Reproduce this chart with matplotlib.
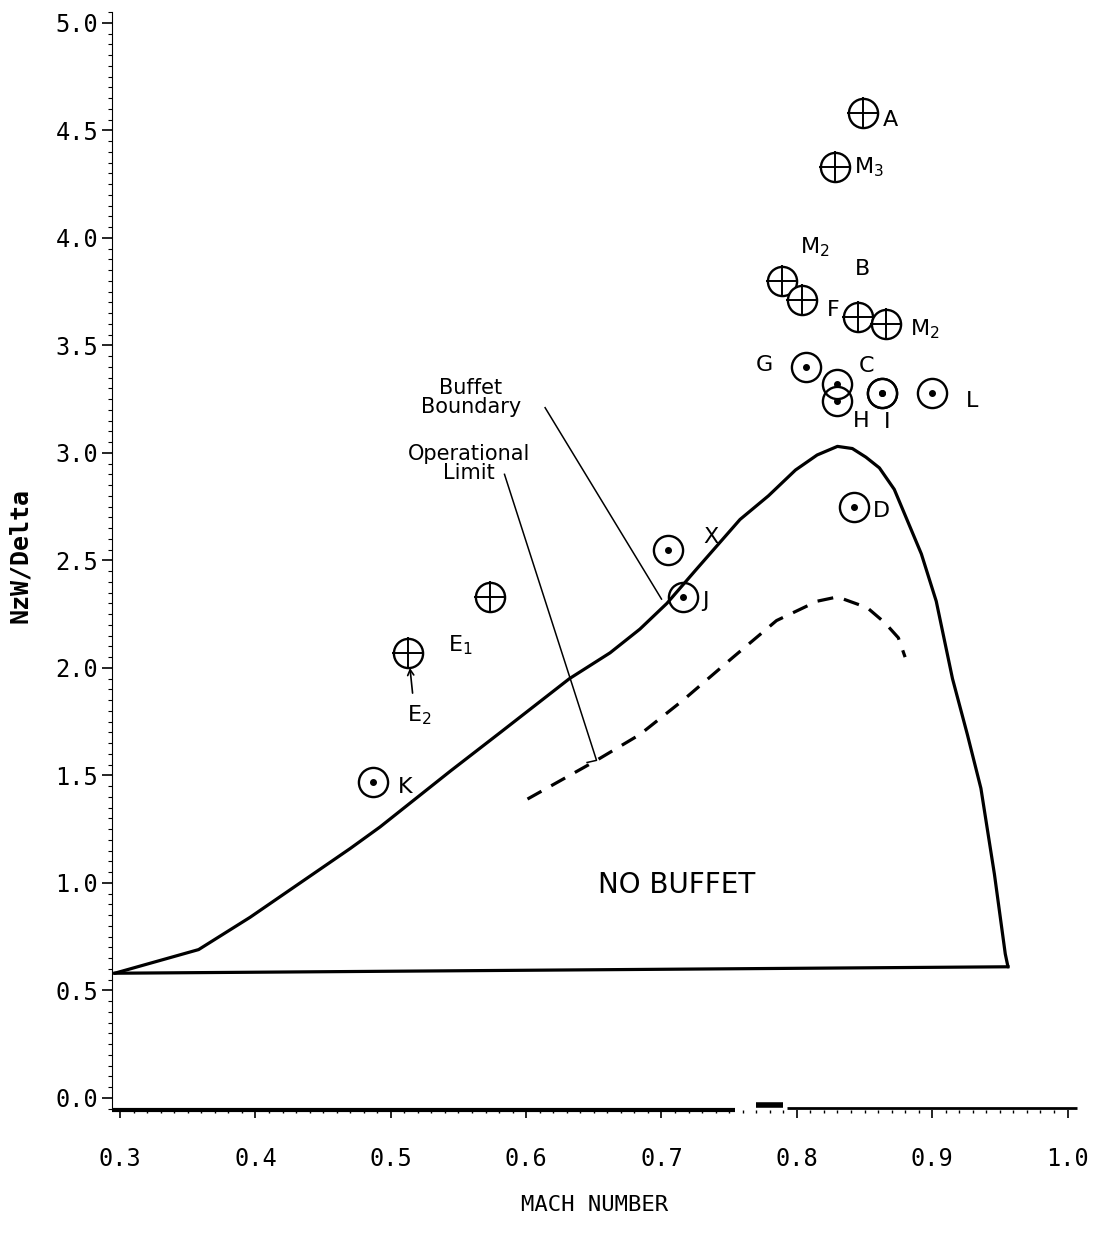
import matplotlib
matplotlib.use("Agg")
import matplotlib.pyplot as plt
from matplotlib.ticker import MultipleLocator

# ---------------- data ----------------
# Buffet boundary (solid curve)
boundary_mach = [0.296, 0.358, 0.396, 0.433, 0.470, 0.492, 0.522, 0.544, 0.581,
                 0.632, 0.662, 0.684, 0.704, 0.726, 0.758, 0.779, 0.799, 0.815,
                 0.830, 0.841, 0.851, 0.861, 0.872, 0.882, 0.892, 0.903, 0.915,
                 0.926, 0.936, 0.946, 0.954, 0.956]
boundary_nzw = [0.58, 0.69, 0.84, 1.00, 1.16, 1.26, 1.41, 1.52, 1.70,
                1.95, 2.07, 2.18, 2.30, 2.46, 2.69, 2.80, 2.92, 2.99,
                3.03, 3.02, 2.98, 2.93, 2.83, 2.68, 2.53, 2.31, 1.95,
                1.69, 1.44, 1.04, 0.67, 0.61]

# Operational limit (dashed curve)
oplimit_mach = [0.601, 0.652, 0.684, 0.716, 0.753, 0.785, 0.815, 0.830, 0.852, 0.865, 0.875, 0.880]
oplimit_nzw = [1.39, 1.57, 1.69, 1.85, 2.05, 2.22, 2.31, 2.33, 2.28, 2.21, 2.14, 2.05]

# Crossed-circle points
crossed_labels = ['A', 'M$_3$', 'M$_2$', 'F', 'B', 'M$_2$', 'E$_1$', 'E$_2$']
crossed_mach = [0.849, 0.828, 0.789, 0.804, 0.845, 0.866, 0.573, 0.513]
crossed_nzw = [4.58, 4.33, 3.80, 3.71, 3.63, 3.60, 2.33, 2.07]

# Dotted-circle points
dotted_labels = ['G', '', 'H', 'C', 'I', 'L', 'X', 'J', 'D', 'K']
dotted_mach = [0.807, 0.830, 0.830, 0.863, 0.863, 0.900, 0.705, 0.716, 0.842, 0.487]
dotted_nzw = [3.40, 3.32, 3.24, 3.28, 3.28, 3.28, 2.55, 2.33, 2.75, 1.47]

# Leader lines for the annotations
bb_leader_mach = [0.614, 0.700]
bb_leader_nzw = [3.21, 2.32]
ol_leader_mach = [0.584, 0.652, 0.645]
ol_leader_nzw = [2.90, 1.57, 1.56]

x_ticks = [0.3, 0.4, 0.5, 0.6, 0.7, 0.8, 0.9, 1.0]
y_ticks = [0.0, 0.5, 1.0, 1.5, 2.0, 2.5, 3.0, 3.5, 4.0, 4.5, 5.0]

# ---------------- style (offsets in points, alignment) ----------------
crossed_offsets = [(14, -5, 'left'), (14, 0, 'left'), (13, 24, 'left'), (18, -7, 'left'),
                   (-2, 35, 'left'), (17, -4, 'left'), (-30, -35, 'left'), (-1, -45, 'left')]
dotted_offsets = [(-24, 1, 'right'), (0, 0, 'left'), (11, -14, 'left'), (-17, 19, 'left'),
                  (1, -21, 'left'), (24, -6, 'left'), (25, 9, 'left'), (14, -3, 'left'),
                  (14, -3, 'left'), (18, -4, 'left')]
# scanned bottom axis line: (start, end, height in axes fraction, width)
axis_line_pieces = [(0.294, 0.754, 0.0, 3.0), (0.770, 0.790, 0.005, 4.0), (0.793, 1.007, 0.002, 2.0)]

W, H = 1108, 1235
fig = plt.figure(figsize=(W / 100, H / 100), dpi=100)
ax = fig.add_axes([112 / W, 1 - 1110 / H, 965 / W, 1098 / H])
ax.set_xlim(0.294, 1.007)
ax.set_ylim(-0.056, 5.05)

lw_main = 2.3
ax.plot(boundary_mach, boundary_nzw, color='black', lw=lw_main,
        solid_joinstyle='round', solid_capstyle='round')
ax.plot([boundary_mach[0], boundary_mach[-1]], [boundary_nzw[0], boundary_nzw[-1]],
        color='black', lw=lw_main)
ax.plot(oplimit_mach, oplimit_nzw, color='black', lw=lw_main, dashes=(5, 3.5))

ax.plot(bb_leader_mach, bb_leader_nzw, color='black', lw=1.1)
ax.plot(ol_leader_mach, ol_leader_nzw, color='black', lw=1.1)

ms = 21
ax.plot(crossed_mach, crossed_nzw, 'o', ms=ms, mfc='white', mec='black', mew=1.7, ls='none')
ax.plot(crossed_mach, crossed_nzw, '+', ms=ms + 2, mec='black', mew=1.4, ls='none')
ax.plot(dotted_mach, dotted_nzw, 'o', ms=ms, mfc='none', mec='black', mew=1.7, ls='none')
ax.plot(dotted_mach, dotted_nzw, 'o', ms=4, mfc='black', mec='black', ls='none')

lab_font = dict(family='DejaVu Sans', fontsize=16, color='black')
for lab, m, v, (dx, dy, ha) in zip(crossed_labels, crossed_mach, crossed_nzw, crossed_offsets):
    ax.annotate(lab, (m, v), xytext=(dx, dy), textcoords='offset points',
                ha=ha, va='center', **lab_font)
for lab, m, v, (dx, dy, ha) in zip(dotted_labels, dotted_mach, dotted_nzw, dotted_offsets):
    if lab:
        ax.annotate(lab, (m, v), xytext=(dx, dy), textcoords='offset points',
                    ha=ha, va='center', **lab_font)

# small arrow from E2 label to its point
e2 = crossed_labels.index('E$_2$')
ax.annotate('', xy=(crossed_mach[e2], crossed_nzw[e2]), xytext=(3, -29),
            textcoords='offset points',
            arrowprops=dict(arrowstyle='->,head_length=0.4,head_width=0.22', lw=1.2,
                            color='black', shrinkA=0, shrinkB=11))

ax.text(0.559, 3.256, 'Buffet\nBoundary', ha='center', va='center', fontsize=15,
        family='DejaVu Sans', linespacing=0.95)
ax.text(0.558, 2.95, 'Operational\nLimit', ha='center', va='center', fontsize=15,
        family='DejaVu Sans', linespacing=0.95)
ax.text(0.711, 0.99, 'NO BUFFET', ha='center', va='center', fontsize=20,
        family='DejaVu Sans')

# axes styling
for s in ['top', 'right', 'bottom']:
    ax.spines[s].set_visible(False)
ax.spines['left'].set_linewidth(0.8)
for x0, x1, yy, w in axis_line_pieces:
    ax.plot([x0, x1], [yy, yy], color='black', lw=w, transform=ax.get_xaxis_transform(),
            clip_on=False, solid_capstyle='butt')

ax.set_xticks(x_ticks)
ax.set_xticklabels([f'{t:.1f}' for t in x_ticks])
ax.set_yticks(y_ticks)
ax.set_yticklabels([f'{t:.1f}' for t in y_ticks])
ax.xaxis.set_minor_locator(MultipleLocator(0.01))
ax.yaxis.set_minor_locator(MultipleLocator(0.05))
ax.tick_params(axis='x', which='major', direction='out', length=6, width=1.2, pad=21,
               labelsize=17)
ax.tick_params(axis='x', which='minor', direction='out', length=2.5, width=1.0)
ax.tick_params(axis='y', which='major', direction='out', length=7, width=1.2, pad=3,
               labelsize=17)
ax.tick_params(axis='y', which='minor', direction='out', length=3, width=0.8)
for lbl in ax.get_xticklabels() + ax.get_yticklabels():
    lbl.set_family('DejaVu Sans Mono')

ax.set_ylabel('NzW/Delta', family='DejaVu Sans Mono', fontsize=18, fontweight='bold')
ax.yaxis.set_label_coords(-0.095, 0.505)
ax.yaxis.label.set_va('center')
ax.set_xlabel('MACH NUMBER', family='DejaVu Sans Mono', fontsize=16)
ax.xaxis.set_label_coords(0.50, -0.0865)
ax.xaxis.label.set_va('center')

fig.savefig('out.png', dpi=100, facecolor='white')
